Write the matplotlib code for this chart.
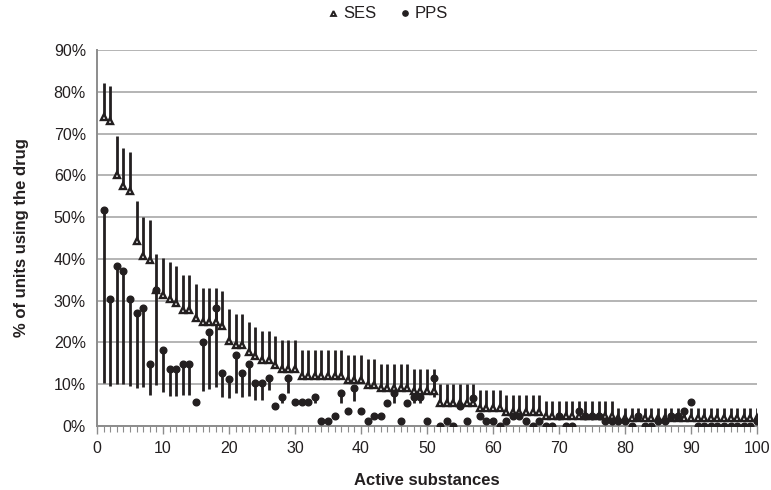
import matplotlib
matplotlib.use('Agg')
import matplotlib.pyplot as plt
from matplotlib.lines import Line2D
from matplotlib.ticker import MultipleLocator, FuncFormatter

plt.rcParams['font.family'] = ['Liberation Sans', 'DejaVu Sans']

# Valores (en %), sustancias 1..100
substances = list(range(1, 101))

ses = [74.0, 73.0, 60.1, 57.4, 56.2, 44.4, 40.6, 39.7, 32.5, 31.4,
       30.5, 29.5, 27.7, 27.7, 25.9, 24.8, 24.8, 24.8, 24.0, 20.3,
       19.4, 19.4, 17.7, 16.7, 15.8, 15.8, 14.6, 13.7, 13.7, 13.7,
       12.0, 12.0, 12.0, 12.0, 12.0, 12.0, 12.0, 11.0, 11.0, 11.0,
       9.9, 9.9, 9.2, 9.2, 9.2, 9.2, 9.2, 8.3, 8.3, 8.3,
       8.3, 5.6, 5.6, 5.6, 5.6, 5.6, 5.6, 4.3, 4.3, 4.3,
       4.3, 3.4, 3.4, 3.4, 3.4, 3.4, 3.4, 2.5, 2.5, 2.5,
       2.5, 2.5, 2.5, 2.5, 2.5, 2.5, 2.5, 2.5, 1.9, 1.9,
       1.9, 1.9, 1.9, 1.9, 1.9, 1.9, 1.9, 1.9, 1.9, 1.9,
       1.9, 1.9, 1.9, 1.9, 1.9, 1.9, 1.9, 1.9, 1.9, 1.9]

ses_high = [82.2, 81.4, 69.4, 66.5, 65.7, 53.8, 50.0, 49.2, 41.2, 40.2,
            39.2, 38.2, 36.1, 36.1, 34.1, 33.1, 33.1, 33.1, 32.2, 27.9,
            26.9, 26.9, 24.8, 23.8, 22.7, 22.7, 21.6, 20.5, 20.5, 20.5,
            18.2, 18.2, 18.2, 18.2, 18.2, 18.2, 18.2, 17.0, 17.0, 17.0,
            16.0, 16.0, 14.9, 14.9, 14.9, 14.9, 14.9, 13.6, 13.6, 13.6,
            13.6, 10.0, 10.0, 10.0, 10.0, 10.0, 10.0, 8.7, 8.7, 8.7,
            8.7, 7.4, 7.4, 7.4, 7.4, 7.4, 7.4, 5.9, 5.9, 5.9,
            5.9, 5.9, 5.9, 5.9, 5.9, 5.9, 5.9, 5.9, 4.3, 4.3,
            4.3, 4.3, 4.3, 4.3, 4.3, 4.3, 4.3, 4.3, 4.3, 4.3,
            4.3, 4.3, 4.3, 4.3, 4.3, 4.3, 4.3, 4.3, 4.3, 4.3]

pps = [51.8, 30.5, 38.2, 37.2, 30.5, 27.1, 28.2, 14.9, 32.6, 18.1,
       13.6, 13.6, 14.9, 14.9, 5.8, 20.2, 22.6, 28.2, 12.6, 11.3,
       17.0, 12.6, 14.9, 10.3, 10.3, 11.4, 4.7, 6.9, 11.4, 5.7,
       5.7, 5.7, 7.0, 1.3, 1.3, 2.4, 8.0, 3.5, 9.1, 3.5,
       1.3, 2.4, 2.4, 5.6, 8.0, 1.3, 5.6, 7.0, 7.0, 1.3,
       11.5, 0.0, 1.3, 0.0, 4.7, 1.3, 6.8, 2.5, 1.3, 1.3,
       0.0, 1.3, 2.5, 2.5, 1.3, 0.0, 1.3, 0.0, 0.0, 2.5,
       0.0, 0.0, 3.5, 2.5, 2.5, 2.5, 1.3, 1.3, 1.3, 1.3,
       0.0, 2.5, 0.0, 0.0, 1.3, 1.3, 2.4, 2.4, 3.6, 5.8,
       0.0, 0.0, 0.0, 0.0, 0.0, 0.0, 0.0, 0.0, 0.0, 1.3]

pps_low = [10.4, 9.6, 10.1, 10.1, 9.6, 9.2, 9.4, 7.5, 9.9, 8.1,
           7.2, 7.2, 7.5, 7.5, 5.8, 8.4, 8.9, 9.4, 7.0, 6.7,
           8.0, 7.0, 7.3, 6.3, 6.3, 8.6, 4.7, 5.4, 8.0, 5.7,
           5.7, 5.7, 5.4, 1.3, 1.3, 2.4, 5.6, 3.5, 6.1, 3.5,
           1.3, 2.4, 2.4, 5.6, 5.6, 1.3, 5.6, 5.4, 5.4, 1.3,
           7.0, 0.0, 1.3, 0.0, 4.7, 1.3, 6.8, 2.5, 1.3, 1.3,
           0.0, 1.3, 2.5, 2.5, 1.3, 0.0, 1.3, 0.0, 0.0, 2.5,
           0.0, 0.0, 3.5, 2.5, 2.5, 2.5, 1.3, 1.3, 1.3, 1.3,
           0.0, 2.5, 0.0, 0.0, 1.3, 1.3, 2.4, 2.4, 3.6, 5.8,
           0.0, 0.0, 0.0, 0.0, 0.0, 0.0, 0.0, 0.0, 0.0, 1.3]

ink = '#231f20'
grid_gray = '#b4b4b4'
axis_gray = '#8c8c8c'

fig = plt.figure(figsize=(7.71, 4.90), dpi=100)
ax = fig.add_axes([97 / 771, 64 / 490, 660 / 771, 376 / 490])

# Barras de error: SES hacia arriba, PPS hacia abajo
ses_err = [[0] * len(ses), [h - v for h, v in zip(ses_high, ses)]]
pps_err = [[v - l for v, l in zip(pps, pps_low)], [0] * len(pps)]

ax.errorbar(substances, ses, yerr=ses_err, fmt='none', ecolor=ink,
            elinewidth=2.0, capsize=0, zorder=3)
ax.errorbar(substances, pps, yerr=pps_err, fmt='none', ecolor=ink,
            elinewidth=2.0, capsize=0, zorder=3)
ax.plot(substances, ses, linestyle='none', marker='^', markersize=4.6,
        markerfacecolor='white', markeredgecolor=ink, markeredgewidth=1.7,
        zorder=4)
ax.plot(substances, pps, linestyle='none', marker='o', markersize=4.8,
        color=ink, zorder=5)

ax.set_xlim(0, 100)
ax.set_ylim(0, 90)
ax.xaxis.set_major_locator(MultipleLocator(10))
ax.xaxis.set_minor_locator(MultipleLocator(1))
ax.yaxis.set_major_locator(MultipleLocator(10))
ax.yaxis.set_major_formatter(FuncFormatter(lambda v, p: f'{v:.0f}%'))

ax.grid(True, axis='y', color=grid_gray, linewidth=1.4, zorder=0)
ax.set_axisbelow(True)
for side in ['top', 'right']:
    ax.spines[side].set_visible(False)
for side in ['left', 'bottom']:
    ax.spines[side].set_color(axis_gray)
    ax.spines[side].set_linewidth(1.4)

ax.tick_params(axis='x', which='major', length=6, width=1, color=axis_gray,
               labelsize=11.5, labelcolor=ink, pad=5)
ax.tick_params(axis='x', which='minor', length=4, width=0.8, color=axis_gray)
ax.tick_params(axis='y', which='major', length=0, labelsize=11.5,
               labelcolor=ink, pad=8)

ax.set_xlabel('Active substances', fontsize=12, fontweight='bold',
              color=ink, labelpad=12)
ax.set_ylabel('% of units using the drug', fontsize=12, fontweight='bold',
              color=ink, labelpad=18)

handles = [
    Line2D([], [], linestyle='none', marker='^', markersize=3.5,
           markerfacecolor='white', markeredgecolor=ink, markeredgewidth=1.4),
    Line2D([], [], linestyle='none', marker='o', markersize=3.8, color=ink),
]
fig.legend(handles, ['SES', 'PPS'], loc='center',
           bbox_to_anchor=(388 / 771, 1 - 14 / 490), ncol=2, frameon=False,
           fontsize=12, handlelength=0.6, handletextpad=0.3,
           columnspacing=1.4, labelcolor=ink)

fig.savefig('out.png', dpi=100)
plt.close(fig)
